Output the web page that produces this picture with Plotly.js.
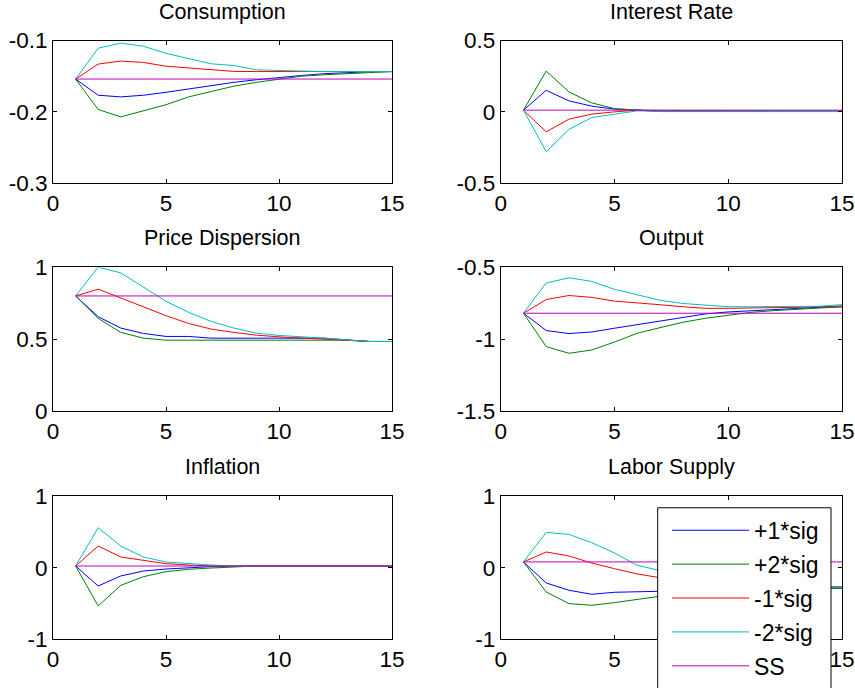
<!DOCTYPE html>
<html>
<head>
<meta charset="utf-8">
<script src="https://cdn.plot.ly/plotly-3.0.1.min.js"></script>
<style>html,body{margin:0;padding:0;background:#fff;overflow:hidden;}#chart{width:855px;height:688px;}</style>
</head>
<body>
<div id="chart"></div>
<script>
// ---------- DATA ----------
var periods = [1,2,3,4,5,6,7,8,9,10,11,12,13,14,15];
var seriesNames = ['+1*sig', '+2*sig', '-1*sig', '-2*sig', 'SS'];
var panelTitles = ['Consumption', 'Interest Rate', 'Price Dispersion', 'Output', 'Inflation', 'Labor Supply'];

// Consumption
var consP1 = [-0.154,-0.1767,-0.179,-0.1767,-0.1726,-0.168,-0.163,-0.1586,-0.155,-0.1516,-0.149,-0.1465,-0.145,-0.1437,-0.1435];
var consP2 = [-0.154,-0.1967,-0.207,-0.199,-0.190,-0.179,-0.172,-0.164,-0.1586,-0.154,-0.150,-0.148,-0.1465,-0.1456,-0.1435];
var consM1 = [-0.154,-0.133,-0.1288,-0.1307,-0.136,-0.1386,-0.141,-0.1433,-0.1435,-0.1435,-0.1435,-0.1435,-0.1435,-0.1435,-0.1435];
var consM2 = [-0.154,-0.1107,-0.1037,-0.108,-0.118,-0.125,-0.1326,-0.135,-0.141,-0.142,-0.143,-0.1435,-0.1435,-0.1435,-0.1435];
var consSS = [-0.154,-0.154,-0.154,-0.154,-0.154,-0.154,-0.154,-0.154,-0.154,-0.154,-0.154,-0.154,-0.154,-0.154,-0.154];

// Interest Rate
var rateP1 = [0.012,0.151,0.077,0.040,0.019,0.012,0.005,0.004,0.004,0.004,0.004,0.004,0.004,0.004,0.004];
var rateP2 = [0.012,0.286,0.140,0.063,0.023,0.012,0.002,0.002,0.002,0.002,0.002,0.002,0.002,0.002,0.002];
var rateM1 = [0.012,-0.140,-0.051,-0.016,0.000,0.012,0.010,0.009,0.008,0.008,0.008,0.007,0.006,0.005,0.005];
var rateM2 = [0.012,-0.279,-0.123,-0.040,-0.016,0.007,0.004,0.003,0.003,0.003,0.003,0.003,0.003,0.003,0.003];
var rateSS = [0.012,0.012,0.012,0.012,0.012,0.012,0.012,0.012,0.012,0.012,0.012,0.012,0.012,0.012,0.012];

// Price Dispersion
var dispP1 = [0.80,0.656,0.577,0.540,0.519,0.519,0.507,0.507,0.507,0.507,0.507,0.507,0.495,0.484,0.484];
var dispP2 = [0.80,0.644,0.547,0.507,0.493,0.493,0.493,0.493,0.493,0.493,0.493,0.493,0.493,0.484,0.484];
var dispM1 = [0.80,0.847,0.786,0.726,0.663,0.609,0.570,0.547,0.528,0.516,0.507,0.500,0.493,0.484,0.484];
var dispM2 = [0.80,1.000,0.960,0.860,0.763,0.686,0.623,0.577,0.542,0.526,0.519,0.507,0.495,0.484,0.484];
var dispSS = [0.80,0.80,0.80,0.80,0.80,0.80,0.80,0.80,0.80,0.80,0.80,0.80,0.80,0.80,0.80];

// Output
var outP1 = [-0.82,-0.940,-0.961,-0.950,-0.924,-0.899,-0.871,-0.848,-0.825,-0.811,-0.802,-0.793,-0.784,-0.779,-0.775];
var outP2 = [-0.82,-1.052,-1.098,-1.075,-1.020,-0.959,-0.920,-0.883,-0.855,-0.832,-0.814,-0.802,-0.793,-0.784,-0.775];
var outM1 = [-0.82,-0.725,-0.697,-0.710,-0.736,-0.747,-0.761,-0.775,-0.786,-0.786,-0.786,-0.781,-0.779,-0.775,-0.770];
var outM2 = [-0.82,-0.610,-0.574,-0.599,-0.654,-0.691,-0.730,-0.752,-0.763,-0.775,-0.775,-0.775,-0.775,-0.772,-0.760];
var outSS = [-0.82,-0.82,-0.82,-0.82,-0.82,-0.82,-0.82,-0.82,-0.82,-0.82,-0.82,-0.82,-0.82,-0.82,-0.82];

// Inflation
var inflP1 = [0.023,-0.256,-0.116,-0.047,-0.019,0.000,0.014,0.023,0.023,0.023,0.023,0.023,0.023,0.023,0.023];
var inflP2 = [0.023,-0.535,-0.247,-0.126,-0.056,-0.023,-0.005,0.009,0.023,0.023,0.023,0.023,0.023,0.023,0.023];
var inflM1 = [0.023,0.302,0.149,0.102,0.056,0.037,0.023,0.023,0.023,0.023,0.023,0.023,0.023,0.023,0.023];
var inflM2 = [0.023,0.558,0.302,0.149,0.079,0.056,0.037,0.023,0.023,0.023,0.023,0.023,0.023,0.023,0.023];
var inflSS = [0.023,0.023,0.023,0.023,0.023,0.023,0.023,0.023,0.023,0.023,0.023,0.023,0.023,0.023,0.023];

// Labor Supply
var labP1 = [0.08,-0.214,-0.316,-0.372,-0.344,-0.340,-0.330,-0.320,-0.310,-0.300,-0.290,-0.285,-0.280,-0.275,-0.270];
var labP2 = [0.08,-0.340,-0.502,-0.526,-0.488,-0.442,-0.400,-0.370,-0.345,-0.325,-0.310,-0.300,-0.295,-0.290,-0.290];
var labM1 = [0.08,0.219,0.163,0.065,-0.014,-0.088,-0.140,-0.180,-0.210,-0.230,-0.245,-0.255,-0.262,-0.266,-0.270];
var labM2 = [0.08,0.493,0.465,0.349,0.205,0.033,-0.040,-0.110,-0.170,-0.210,-0.235,-0.250,-0.260,-0.265,-0.270];
var labSS = [0.08,0.08,0.08,0.08,0.08,0.08,0.08,0.08,0.08,0.08,0.08,0.08,0.08,0.08,0.08];

// Tick values / labels
var xTickVals = [0, 5, 10, 15];
var xTickText = ['0', '5', '10', '15'];
var yTickVals = [[-0.3,-0.2,-0.1], [-0.5,0,0.5], [0,0.5,1], [-1.5,-1,-0.5], [-1,0,1], [-1,0,1]];
var yTickText = [['-0.3','-0.2','-0.1'], ['-0.5','0','0.5'], ['0','0.5','1'], ['-1.5','-1','-0.5'], ['-1','0','1'], ['-1','0','1']];
var yRanges = [[-0.3,-0.1], [-0.5,0.5], [0,1], [-1.5,-0.5], [-1,1], [-1,1]];

// ---------- BUILD ----------
var panels = [
  [consP1, consP2, consM1, consM2, consSS],
  [rateP1, rateP2, rateM1, rateM2, rateSS],
  [dispP1, dispP2, dispM1, dispM2, dispSS],
  [outP1, outP2, outM1, outM2, outSS],
  [inflP1, inflP2, inflM1, inflM2, inflSS],
  [labP1, labP2, labM1, labM2, labSS]
];
var colors = ['#0000FF', '#008000', '#FF0000', '#00BFBF', '#BF00BF'];

var W = 855, H = 688;
var colX = [[53, 392], [500.7, 842]];
var rowY = [[40.7, 184], [268.3, 413], [498.3, 642]];

var FONT = '"Liberation Sans", Arial, Helvetica, sans-serif';
var data = [];
var layout = {
  width: W, height: H,
  margin: {l: 0, r: 0, t: 0, b: 0},
  paper_bgcolor: '#ffffff',
  plot_bgcolor: '#ffffff',
  font: {family: FONT, size: 22, color: '#000'},
  showlegend: true,
  legend: {
    x: 667 / W, y: 1 - 511 / H, xanchor: 'left', yanchor: 'top',
    bgcolor: 'rgba(0,0,0,0)', borderwidth: 0,
    font: {family: FONT, size: 23, color: '#000'},
    itemwidth: 77, tracegroupgap: 1, traceorder: 'grouped'
  },
  shapes: [{
    type: 'rect', xref: 'paper', yref: 'paper', layer: 'above',
    x0: 657.7 / W, x1: 831 / W, y0: -0.01, y1: 1 - 510 / H,
    line: {color: '#000', width: 1}, fillcolor: '#ffffff'
  }],
  annotations: []
};

for (var p = 0; p < 6; p++) {
  var col = p % 2, row = Math.floor(p / 2);
  var ax = p === 0 ? '' : String(p + 1);
  var xd = [colX[col][0] / W, colX[col][1] / W];
  var yd = [1 - rowY[row][1] / H, 1 - rowY[row][0] / H];
  var common = {
    showline: true, linecolor: '#000', linewidth: 1, mirror: 'allticks',
    ticks: 'inside', ticklen: 4, tickcolor: '#000', tickwidth: 1,
    showgrid: false, zeroline: false,
    tickfont: {family: FONT, size: 22.5, color: '#000'}
  };
  layout['xaxis' + ax] = Object.assign({}, common, {
    domain: xd, anchor: 'y' + ax, range: [0, 15],
    tickmode: 'array', tickvals: xTickVals, ticktext: xTickText
  });
  layout['yaxis' + ax] = Object.assign({}, common, {
    domain: yd, anchor: 'x' + ax, range: yRanges[p],
    tickmode: 'array', tickvals: yTickVals[p], ticktext: yTickText[p]
  });
  layout.annotations.push({
    text: panelTitles[p], xref: 'paper', yref: 'paper',
    x: (xd[0] + xd[1]) / 2, y: yd[1], xanchor: 'center', yanchor: 'bottom',
    yshift: 15, showarrow: false,
    font: {family: FONT, size: 21.5, color: '#000'}
  });
  for (var s = 0; s < 5; s++) {
    data.push({
      x: periods, y: panels[p][s], type: 'scatter', mode: 'lines',
      name: seriesNames[s], legendgroup: 'g' + s,
      showlegend: p === 5,
      line: {color: colors[s], width: 1},
      xaxis: 'x' + ax, yaxis: 'y' + ax, hoverinfo: 'skip'
    });
  }
}

Plotly.newPlot('chart', data, layout, {staticPlot: true});
</script>
</body>
</html>
